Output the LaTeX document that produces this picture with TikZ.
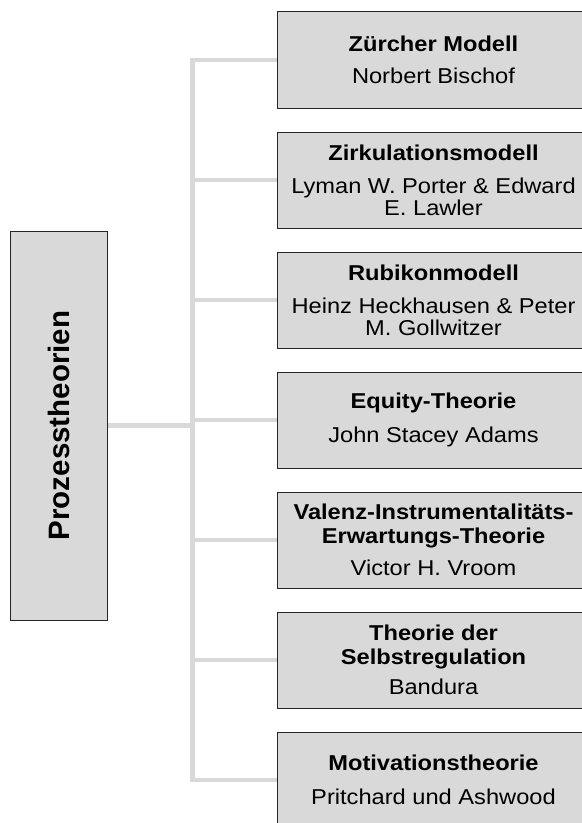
\documentclass[tikz,border=0pt]{standalone}
\usepackage{fontspec}
\setmainfont{Liberation Sans}[FakeStretch=1.1]
\newfontfamily\plainsans{Liberation Sans}
\usetikzlibrary{backgrounds}
\definecolor{boxfill}{HTML}{D9D9D9}
\definecolor{linegray}{HTML}{D9D9D9}
\definecolor{boxline}{HTML}{262626}
\begin{document}
\begin{tikzpicture}[x=1bp,y=-1bp,
  leaf/.style={draw=boxline, fill=boxfill, line width=1bp, minimum width=313bp,
    minimum height=96bp, inner sep=0pt, align=center,
    font=\fontsize{21.5bp}{24bp}\selectfont},
  rootbox/.style={draw=boxline, fill=boxfill, line width=1bp, minimum width=96bp,
    minimum height=389bp, inner sep=0pt,
    font=\plainsans\bfseries\fontsize{29.5bp}{34bp}\selectfont},
  conn/.style={draw=linegray, line width=4.7bp, line join=miter}
]
\useasboundingbox (0,0) rectangle (582,823);
\clip (0,0) rectangle (582,823);

\node[rootbox] (root) at (59,425.5) {\rotatebox{90}{Prozesstheorien}};

\node[leaf] (t1) at (433.5,60)  {\textbf{Zürcher Modell}\\[8bp]Norbert Bischof};
\node[leaf] (t2) at (433.5,180) {\textbf{Zirkulationsmodell}\\[9bp]Lyman W. Porter \& Edward\\[-2bp]E. Lawler};
\node[leaf] (t3) at (433.5,300) {\textbf{Rubikonmodell}\\[9bp]Heinz Heckhausen \& Peter\\[-2bp]M. Gollwitzer};
\node[leaf] (t4) at (433.5,420) {\textbf{Equity-Theorie}\\[10bp]John Stacey Adams};
\node[leaf] (t5) at (433.5,540) {\textbf{Valenz-Instrumentalitäts-}\\\textbf{Erwartungs-Theorie}\\[8bp]Victor H. Vroom};
\node[leaf] (t6) at (433.5,660) {\textbf{Theorie der}\\\textbf{Selbstregulation}\\[6bp]Bandura};
\node[leaf] (t7) at (433.5,780) {\textbf{Motivationstheorie}\\[10bp]Pritchard und Ashwood};

\coordinate (trunk) at (192.5,0);

\begin{scope}[on background layer]
  \draw[conn] (t1.west) -- (t1.west -| trunk) -- (t7.west -| trunk) -- (t7.west);
  \draw[conn] (t2.west) -- (t2.west -| trunk);
  \draw[conn] (t3.west) -- (t3.west -| trunk);
  \draw[conn] (t4.west) -- (t4.west -| trunk);
  \draw[conn] (t5.west) -- (t5.west -| trunk);
  \draw[conn] (t6.west) -- (t6.west -| trunk);
  \draw[conn] (root.east) -- (root.east -| trunk);
\end{scope}
\end{tikzpicture}
\end{document}
